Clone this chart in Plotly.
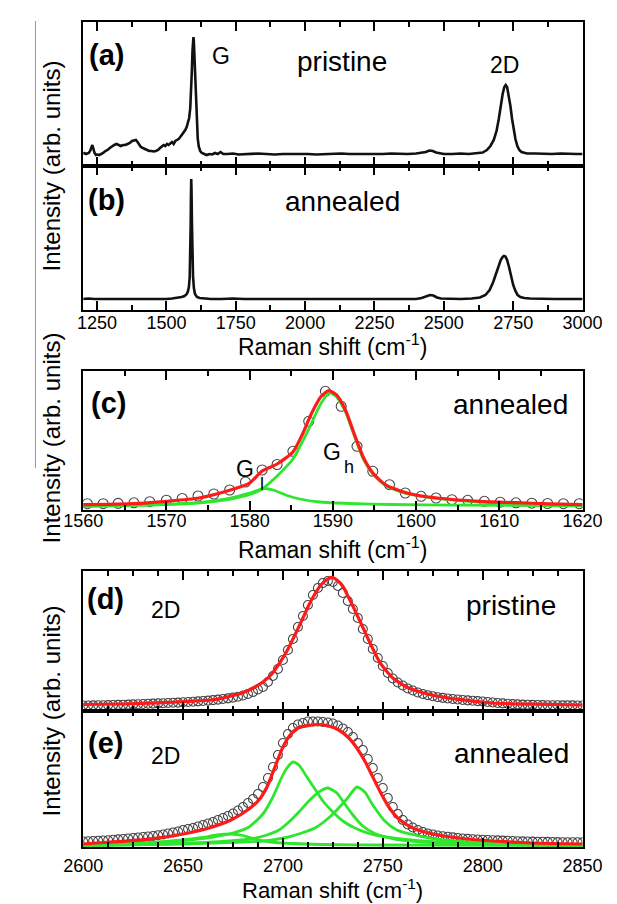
import plotly.graph_objects as go

# ---------------- DATA ----------------
# Panel (a): pristine full spectrum
a_x = [1200,1205,1210,1215,1220,1225,1229,1233,1237,1241,1246,1252,1258,1265,1272,1280,1288,1296,1304,1312,
       1320,1328,1336,1344,1352,1360,1368,1376,1384,1390,1396,1402,1408,1415,1422,1430,1438,1446,1454,1462,
       1470,1477,1484,1490,1496,1502,1508,1514,1520,1526,1532,1538,1544,1550,1556,1562,1568,1573,1578,1582,
       1586,1589,1592,1594,1596,1597.5,1599,1601,1603,1606,1609,1613,1617,1622,1628,1635,1645,1655,1665,1675,
       1685,1695,1705,1720,1740,1760,1780,1800,1830,1860,1890,1920,1950,1980,2010,2040,2070,2100,2130,2160,
       2190,2220,2250,2280,2310,2340,2370,2400,2420,2435,2448,2460,2472,2485,2500,2530,2560,2590,2620,2640,
       2655,2668,2680,2690,2698,2705,2712,2718,2723,2728,2734,2740,2746,2752,2758,2765,2772,2780,2790,2800,
       2830,2860,2890,2920,2950,2980,3000]
a_y = [12,13,12,12.5,13,15,19,21,17,13,11,11.5,11,12,13,15,16,18,20,21,
       22,21,20,21,21,22,23,25,26,26,24,21,19,18,17,16,15,15,14.5,15,
       16,18,20,21,20,22,21,23,24,22,25,26,27,29,31,33,36,39,43,48,
       58,72,97,115,127,129,124,108,88,62,42,27,19,15,13,12,11,12,11.5,13,
       12,14,12,12,12.5,11.5,12,12,12.5,12,11.5,12,12,12.5,12,11.5,12,12,12.5,12,
       12,11.5,12,12,12.5,12,12,12.5,13,14,15.5,15,13.5,12.5,12,12,12.5,12,12.5,13.5,
       16,20,26,35,47,60,72,79,81,79,71,60,47,36,27,20,16,14,13,12.5,
       12.5,12,12,12.5,12,12,12]

# Panel (b): annealed full spectrum
b_x = [1200,1220,1240,1260,1280,1300,1320,1340,1360,1380,1400,1420,1440,1460,1480,1500,1520,1540,1555,1565,
       1572,1577,1581,1584,1586,1587.5,1588.5,1589.5,1590.5,1592,1594,1596,1599,1603,1610,1620,1640,1660,1700,1740,
       1780,1820,1860,1900,1940,1980,2020,2060,2100,2140,2180,2220,2260,2300,2340,2380,2400,2420,2435,2450,
       2462,2475,2490,2520,2560,2600,2630,2650,2665,2678,2688,2697,2705,2712,2717,2722,2728,2735,2742,2750,
       2758,2766,2776,2790,2810,2850,2900,2950,3000]
b_y = [11,11.5,11,11,10.5,11,11,10.5,11,11,10.5,11,11,10.5,11,11,11.5,12,13,14,
       15.5,18,23,33,52,85,115,131,120,88,55,34,22,16,13,12,11.5,11,11,11.5,
       11,11,11.5,11,11,11.5,11,11,11.5,11,11,11,11.5,11,11,11,11,12,13.5,15,
       14.5,12.5,11.5,11,11,11.5,12.5,15,20,28,37,45,50,53,54,53.5,50,43,34,25,
       19,15,13,12,11.5,11,11,11,11]

# Panel (c): G band of annealed sample
c_pts_x = [1560.5,1562.4,1564.2,1566.1,1568.0,1570.0,1571.9,1573.8,1575.7,1577.6,1579.5,1581.5,1583.3,1585.2,1587.1,1589.1,
           1591.0,1592.9,1594.8,1596.8,1598.7,1600.6,1602.4,1604.3,1606.2,1608.2,1610.1,1612.0,1613.9,1615.8,1617.7,1619.6]
c_pts_y = [6.3,6.3,6.6,7.2,8.3,9.8,11.5,14,16,20,28,40,45.5,58.7,88.7,118.7,
           103.7,63.7,38.7,25.3,17,13.7,12,10.3,9.7,8.7,7.8,7.2,6.8,6.5,6.3,6.3]
c_fit_x = [1560,1563,1566,1570,1573.9,1577.7,1580,1581.5,1583.3,1585.2,1586.3,1587.4,1588.6,1589.5,1590.4,1591.5,
           1592.6,1593.7,1594.8,1596.3,1598.2,1600.1,1603.8,1607.6,1612,1616,1620]
c_fit_y = [5.3,5.6,6.3,8.7,12,20,27,39,46,58,75,96,113.7,119.3,115.3,100.3,
           75.3,52,37,25.3,18.7,14.7,11,8.7,7.3,6.2,5.3]
c_gh_x = [1560,1565,1570,1574,1577.7,1580,1581.5,1583.3,1585.2,1587.1,1588.6,1589.6,1590.4,1591.5,1592.6,1593.7,
          1594.8,1596.3,1598.2,1600.1,1603.8,1607.6,1612,1616,1620]
c_gh_y = [3.8,4.5,5.4,7.2,11,15.5,21,34,51,81,107,117,113.5,98.7,73.7,50.3,
          36,24.7,18,14.3,10.3,8,6.5,5.6,5]
c_gl_x = [1560,1565,1570,1574,1577.7,1580,1581.8,1583,1584.5,1586,1588.5,1592,1597,1605,1620]
c_gl_y = [3.6,4.5,5.6,7.6,12,17,21.5,19.5,14.5,11,8,6.5,5.5,4.8,4.2]

# Panel (d): 2D band pristine
d_pts_x = [2600,2602.5,2605,2607.5,2610,2612.5,2615,2617.5,2620,2622.5,2625,2627.5,2630,2632.5,2635,2637.5,2640,2642.5,2645,2647.5,
           2650,2652.5,2655,2657.5,2660,2662.5,2665,2667.5,2670,2672.5,2675,2677.5,2680,2682.5,2685,2687.5,2690,2692.5,2695,2697.5,
           2700,2702.5,2705,2707.5,2710,2712.5,2715,2717.5,2720,2722.5,2725,2727.5,2730,2732.5,2735,2737.5,2740,2742.5,2745,2747.5,
           2750,2752.5,2755,2757.5,2760,2762.5,2765,2767.5,2770,2772.5,2775,2777.5,2780,2782.5,2785,2787.5,2790,2792.5,2795,2797.5,
           2800,2802.5,2805,2807.5,2810,2812.5,2815,2817.5,2820,2822.5,2825,2827.5,2830,2832.5,2835,2837.5,2840,2842.5,2845,2847.5,2850]
d_pts_y = [5.5,5.5,5.6,5.7,5.8,5.9,6,6.1,6.3,6.4,6.6,6.8,7,7.2,7.4,7.6,7.8,8,8.2,8.4,
           8.7,9,9.3,9.6,10,10.4,10.9,11.4,12,12.6,13.4,14.2,15.5,17,19,21.5,24,29,35,42,
           51,61,72,84,95,106,116,123,128,130,129,125,118,110,102,93,82,72,62,53,
           45,38,32.5,28.5,25.5,22.5,20.5,18.5,17,15.8,14.7,13.8,13.1,12.5,12,11.5,11,10.6,10.3,9.9,
           9.5,9,8.5,8,7.6,7.2,6.9,6.6,6.4,6.2,6.1,6,5.9,5.8,5.7,5.7,5.6,5.6,5.6,5.5,5.5]
d_fit_x = [2600,2620,2640,2650,2660,2666,2672,2678,2682,2686,2690,2694,2698,2702,2706,2710,2713,2716,2719,2722,
           2724.5,2727,2730,2733,2735,2739.4,2744,2748.7,2755,2763,2774,2789,2805,2825,2850]
d_fit_y = [6.5,7,8.3,9.3,10.5,11.5,14,17,20,24,29,36,47,60,76,93,106,117,126,131.5,
           133.7,131,124.7,113,105,86.3,66.3,48,33,23,16.3,11.3,8,6.8,6]

# Panel (e): 2D band annealed
e_pts_x = d_pts_x
e_pts_y = [5.5,5.8,6,6.3,6.5,6.8,7.2,7.6,8,8.5,9,9.5,10,10.5,11,11.8,12.5,13.5,14.5,15.5,
           17,18,19,20.5,22,23.5,25,27,29,31,33.5,36.5,40,44,48,53,60,69,80,92,
           104,113,119,122.5,124,125.5,125.5,125.5,125,124.5,123.5,121.5,118.5,115,110,104,97,88,79,69,
           59,49,40,33,27,22.5,19.5,17,15,13.5,12.5,11.5,10.8,10.2,9.6,9,8.5,8.1,7.8,7.5,
           7.2,7,6.8,6.6,6.4,6.2,6,5.8,5.6,5.5,5.4,5.3,5.2,5.1,5,4.9,4.8,4.8,4.7,4.7,4.6]
e_fit_x = [2600,2610,2620,2635,2650,2663,2674,2683,2688,2692,2696,2700,2704,2708,2713,2718,2723,2728,2733,2737,
           2741,2745,2749,2753,2758,2765,2775,2790,2805,2825,2850]
e_fit_y = [3,4.5,5.7,8.3,13,19,27,38,47,60,80,100,113,119.5,121.5,122.5,121,117,109,99,
           86,70,54,40,28,19,13,8.5,6,4,3]
e_p1_x = [2600,2630,2650,2665,2675,2683,2690,2695,2699,2702,2705,2708,2712,2716,2720,2725,2730,2736,2744,2755,2768,2785,2810,2850]
e_p1_y = [2,4,6.5,10,14,20,33,50,68,79,85,82,70,58,46,35,26,19,13,9,6.3,4.3,3,2]
e_p2_x = [2600,2640,2670,2685,2692,2698,2703,2708,2713,2718,2722.5,2727,2731,2735,2740,2746,2756,2770,2790,2850]
e_p2_y = [1.5,3,5.5,8.5,12,17,25,35,46,55,59,54,43,32,21,13.5,8,5,3.3,1.8]
e_p3_x = [2600,2650,2680,2690,2704,2716,2724,2732,2737,2741,2745,2751,2757,2769,2785,2807,2850]
e_p3_y = [1.5,3,5,6,10.7,19,31,48,60,55,42,26,17,10.7,6.3,4,2.5]
e_p4_x = [2600,2630,2650,2660,2667,2674,2680,2686,2692,2700,2720,2750,2850]
e_p4_y = [2,4,7,9.5,12,13,11.5,8,5.5,4,2.5,2,1.5]

# axis ranges
ab_range = [1200, 3000]
c_range = [1560, 1620]
de_range = [2600, 2850]

# ---------------- FIGURE ----------------
W, H = 617, 904
FONT = "Liberation Sans, Arial, sans-serif"
BLACK = "#111111"
RED = "#ff1a1a"
GREEN = "#2ee62e"
CIRC = "#444444"

def fx(px):
    return px / W

def fy(py):
    return 1 - py / H

L, R = 59, 593
panels = {  # name: (top, bottom) in pixels
    "a": (14, 158), "b": (158, 302), "c": (363, 502), "d": (563, 703), "e": (703, 839)}

fig = go.Figure()

def line(x, y, ax, color, width, shape="linear"):
    fig.add_trace(go.Scatter(x=x, y=y, mode="lines", xaxis="x" + ax, yaxis="y" + ax,
                             line=dict(color=color, width=width, shape=shape, smoothing=0.6),
                             hoverinfo="skip", showlegend=False))

def circles(x, y, ax, size):
    fig.add_trace(go.Scatter(x=x, y=y, mode="markers", xaxis="x" + ax, yaxis="y" + ax,
                             marker=dict(symbol="circle-open", size=size, color=CIRC,
                                         line=dict(width=1.1, color=CIRC)),
                             hoverinfo="skip", showlegend=False))

# (a) and (b)
line(a_x, a_y, "", BLACK, 2.6)
line(b_x, b_y, "2", BLACK, 2.6)
# (c)
circles(c_pts_x, c_pts_y, "3", 10)
line(c_gl_x, c_gl_y, "3", GREEN, 2.8, "spline")
line(c_gh_x, c_gh_y, "3", GREEN, 2.8, "spline")
line(c_fit_x, c_fit_y, "3", RED, 3.2, "spline")
# (d)
circles(d_pts_x, d_pts_y, "4", 9)
line(d_fit_x, d_fit_y, "4", RED, 3.2, "spline")
# (e)
circles(e_pts_x, e_pts_y, "5", 9)
for gx, gy in [(e_p1_x, e_p1_y), (e_p2_x, e_p2_y), (e_p3_x, e_p3_y), (e_p4_x, e_p4_y)]:
    line(gx, gy, "5", GREEN, 2.8, "spline")
line(e_fit_x, e_fit_y, "5", RED, 3.2, "spline")

tickfont = dict(family=FONT, size=18, color="black")

def xaxis(rng, dtick, mdtick, anchor, labels, standoff=0):
    return dict(domain=[fx(L), fx(R)], range=rng, anchor=anchor, showline=True, linecolor="black",
                linewidth=1.8, mirror="ticks", ticks="inside", ticklen=9, tickwidth=1.5, tickcolor="black",
                dtick=dtick, tick0=0, showgrid=False, zeroline=False, showticklabels=labels,
                tickfont=tickfont, fixedrange=True, ticklabelstandoff=standoff,
                minor=dict(ticks="inside", ticklen=5, tickwidth=1.5, tickcolor="black", dtick=mdtick,
                           tick0=0, showgrid=False))

def yaxis(name, anchor):
    top, bot = panels[name]
    return dict(domain=[fy(bot), fy(top)], range=[0, bot - top], anchor=anchor, showline=True,
                linecolor="black", linewidth=1.8, mirror=True, ticks="", showticklabels=False,
                showgrid=False, zeroline=False, fixedrange=True)

layout = dict(
    width=W, height=H, margin=dict(l=0, r=0, t=0, b=0), paper_bgcolor="white", plot_bgcolor="white",
    xaxis=xaxis(ab_range, 250, 125, "y", False), yaxis=yaxis("a", "x"),
    xaxis2=xaxis(ab_range, 250, 125, "y2", True, -5), yaxis2=yaxis("b", "x2"),
    xaxis3=xaxis(c_range, 10, 5, "y3", True, -7), yaxis3=yaxis("c", "x3"),
    xaxis4=xaxis(de_range, 50, 12.5, "y4", False), yaxis4=yaxis("d", "x4"),
    xaxis5=xaxis(de_range, 50, 12.5, "y5", True, 1), yaxis5=yaxis("e", "x5"),
)
fig.update_layout(**layout)

def ann(text, x, y, size, angle=0, bold=False, family=FONT):
    if bold:
        text = "<b>" + text + "</b>"
    fig.add_annotation(text=text, x=fx(x), y=fy(y), xref="paper", yref="paper", showarrow=False,
                       xanchor="center", yanchor="middle", textangle=angle,
                       font=dict(family=family, size=size, color="black"))

# panel labels
ann("(a)", 84, 47, 29, bold=True)
ann("(b)", 84, 192, 29, bold=True)
ann("(c)", 86, 395, 29, bold=True)
ann("(d)", 83, 591, 29, bold=True)
ann("(e)", 83, 735, 29, bold=True)
# texts
ann("G", 206, 48, 23)
ann("pristine", 336, 53, 28)
ann("2D", 509, 57, 23)
ann("annealed", 336, 193, 28)
ann("annealed", 516, 396, 28)
ann("G", 232, 461, 23)
ann("l", 250, 476, 18)
ann("G", 325, 444, 23)
ann("h", 343, 459, 18)
ann("2D", 147, 602, 23)
ann("pristine", 517, 597, 28)
ann("2D", 147, 748, 23)
ann("annealed", 517, 745, 28)
# axis titles
xt = "Raman shift (cm<sup>-1</sup>)"
ann(xt, 326, 337, 23)
ann(xt, 326, 540, 23)
ann(xt, 326, 881, 22)
yt = "Intensity (arb. units)"
ann(yt, 25, 158, 24, angle=-90)
ann(yt, 25, 430, 24, angle=-90)
ann(yt, 25, 703, 24, angle=-90)

# thin grey rule at the far left of the picture
fig.add_shape(type="line", xref="paper", yref="paper", x0=fx(8), x1=fx(8), y0=fy(13), y1=fy(460),
              line=dict(color="#9a9a9a", width=1))

fig.write_html("out.html")
